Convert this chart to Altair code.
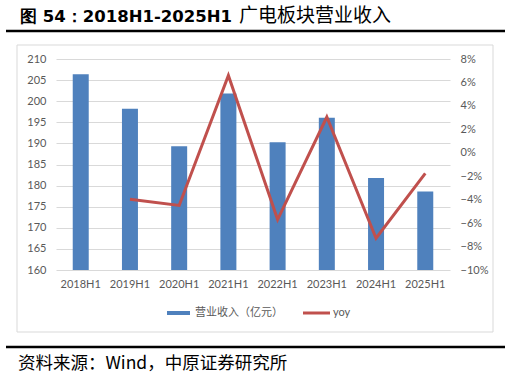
import altair as alt
import pandas as pd

categories = ["2018H1", "2019H1", "2020H1", "2021H1", "2022H1", "2023H1", "2024H1", "2025H1"]
revenue = [206.4, 198.2, 189.3, 201.8, 190.3, 196.1, 181.8, 178.6]
yoy = [None, -0.0397, -0.0449, 0.0660, -0.0570, 0.0305, -0.0729, -0.0176]

title_a = "图 54：2018H1-2025H1"
title_b = "广电板块营业收入"
source_note = "资料来源：Wind，中原证券研究所"
legend_bar = "营业收入（亿元）"
legend_line = "yoy"

BLUE = "#4F81BD"
RED = "#C0504D"
GREY = "#595959"
GRID = "#D9D9D9"
FONT = "Lato"
CJK = "Noto Sans CJK SC"

df = pd.DataFrame({"cat": categories, "rev": revenue, "yoy": yoy})
df_line = df.dropna(subset=["yoy"])

W, H = 394, 211

xenc = alt.X("cat:N", sort=categories,
             scale=alt.Scale(paddingInner=0.675, paddingOuter=0.34),
             axis=alt.Axis(title=None, labelAngle=0, domain=False, ticks=False,
                           labelPadding=8, labelColor=GREY, labelFont=FONT, labelFontSize=11,
                           grid=False))

bars = alt.Chart(df).mark_bar(color=BLUE, clip=True).encode(
    x=xenc,
    y=alt.Y("rev:Q", scale=alt.Scale(domain=[160, 210], nice=False, zero=False),
            axis=alt.Axis(title=None, values=list(range(160, 211, 5)), domain=False, ticks=False,
                          labelPadding=10, labelColor=GREY, labelFont=FONT, labelFontSize=11,
                          grid=True, gridColor=GRID, gridWidth=1)),
)

line = alt.Chart(df_line).mark_line(color=RED, strokeWidth=3).encode(
    x=alt.X("cat:N", sort=categories),
    y=alt.Y("yoy:Q", scale=alt.Scale(domain=[-0.10, 0.08], nice=False, zero=False),
            axis=alt.Axis(title=None, orient="right", values=[-0.10, -0.08, -0.06, -0.04, -0.02, 0, 0.02, 0.04, 0.06, 0.08],
                          format=".0%", domain=False, ticks=False, labelPadding=10,
                          labelColor=GREY, labelFont=FONT, labelFontSize=11, grid=False)),
)

one = alt.Data(values=[{"k": 1}])

border = alt.Chart(one).mark_rect(fill=None, stroke=GRID, strokeWidth=1).encode(
    x=alt.value(-39), x2=alt.value(437), y=alt.value(-14), y2=alt.value(273))

top_rule = alt.Chart(one).mark_rule(color="black", strokeWidth=2.5).encode(
    x=alt.value(-50), x2=alt.value(449), y=alt.value(-28))
bottom_rule = alt.Chart(one).mark_rule(color="black", strokeWidth=2.5).encode(
    x=alt.value(-50), x2=alt.value(449), y=alt.value(288))

t1 = alt.Chart(one).mark_text(text=title_a, font="DejaVu Sans", fontWeight="bold", fontSize=16.5,
                              align="left", baseline="middle", color="black").encode(
    x=alt.value(-36), y=alt.value(-42))
t2 = alt.Chart(one).mark_text(text=title_b, font=CJK, fontSize=19, fontWeight="normal",
                              align="left", baseline="middle", color="black").encode(
    x=alt.value(183), y=alt.value(-43))

foot = alt.Chart(one).mark_text(text=source_note, font=CJK, fontSize=17.5,
                                align="left", baseline="middle", color="black").encode(
    x=alt.value(-38), y=alt.value(305))

lg_rect = alt.Chart(one).mark_rect(color=BLUE).encode(
    x=alt.value(111), x2=alt.value(134), y=alt.value(252), y2=alt.value(256))
lg_t1 = alt.Chart(one).mark_text(text=legend_bar, font=CJK, fontSize=11, color=GREY,
                                 align="left", baseline="middle").encode(
    x=alt.value(139), y=alt.value(254))
lg_rule = alt.Chart(one).mark_rule(color=RED, strokeWidth=3).encode(
    x=alt.value(247), x2=alt.value(274), y=alt.value(254))
lg_t2 = alt.Chart(one).mark_text(text=legend_line, font=FONT, fontSize=11, color=GREY,
                                 align="left", baseline="middle").encode(
    x=alt.value(277), y=alt.value(254))

main = alt.layer(bars, line).resolve_scale(y="independent")

chart = alt.layer(
    main, border, top_rule, bottom_rule, t1, t2, foot, lg_rect, lg_t1, lg_rule, lg_t2
).properties(
    width=W, height=H,
    autosize=alt.AutoSizeParams(type="none"),
    padding={"left": 56, "top": 59, "right": 61, "bottom": 108},
    background="white",
).configure_view(stroke=None)

chart.save("out.html", embed_options={"renderer": "svg", "actions": False})
